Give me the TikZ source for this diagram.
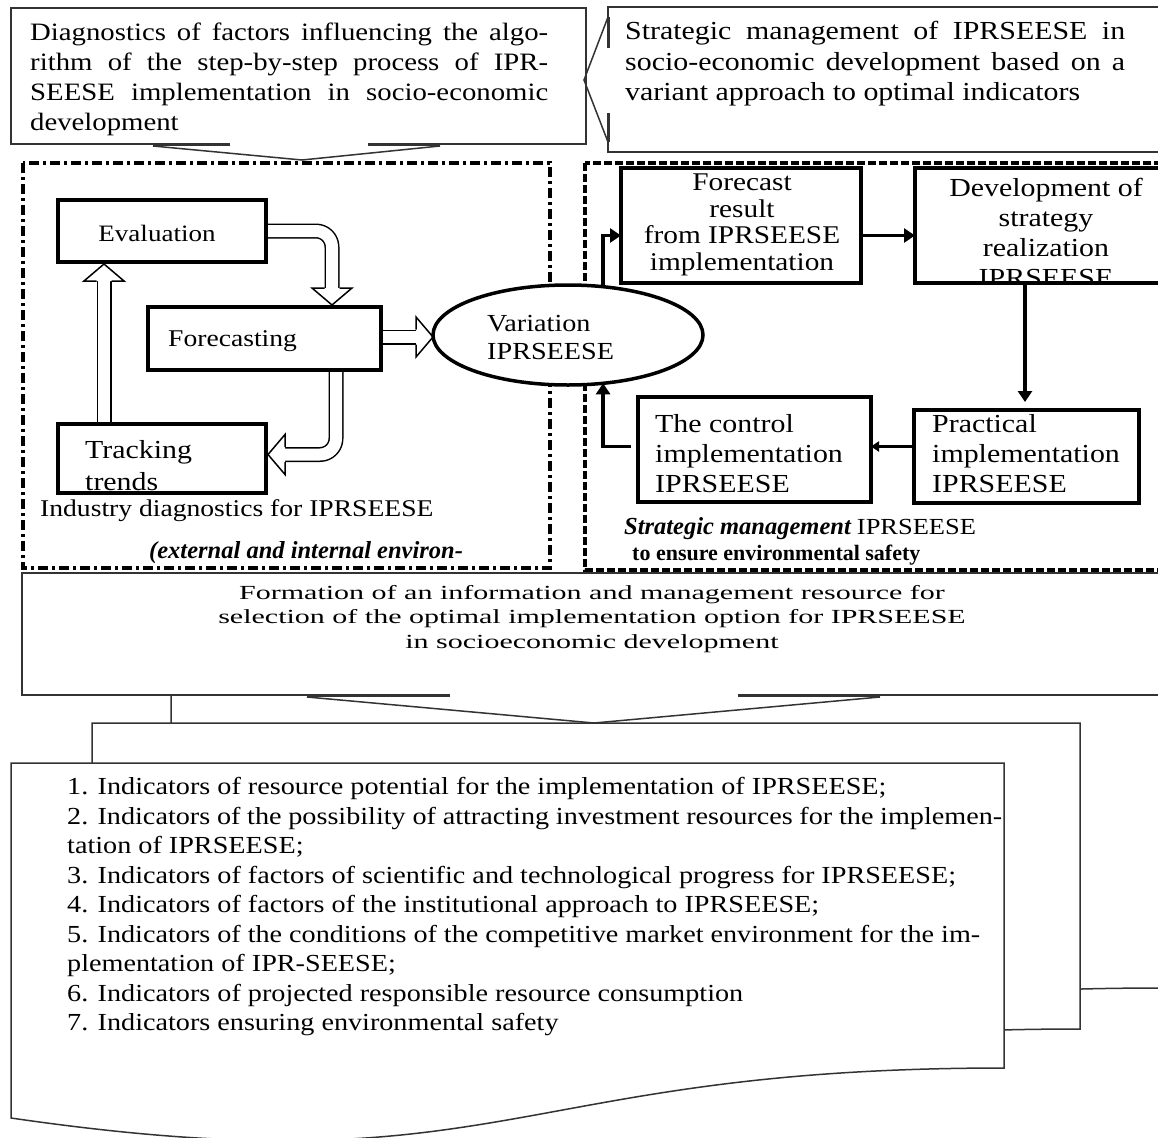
\documentclass[tikz,border=0pt]{standalone}
\usepackage{fontspec}
\setmainfont[FakeStretch=1.15]{Liberation Serif}
\newfontfamily\plainserif{Liberation Serif}
\newfontfamily\widefont[FakeStretch=1.5]{Liberation Serif}
\usetikzlibrary{shapes.geometric,arrows.meta,calc}
\pgfdeclarelayer{bg}
\pgfsetlayers{bg,main}
\newcommand\fsz[2]{\fontsize{#1}{#2}\selectfont}
\newcommand\hollowhead[2]{%
  \begin{scope}[shift={(#1)},rotate=#2]
    \fill[white] (0,0) -- (-17,-20) -- (-17,20) -- cycle;
    \draw[line width=1.5pt,line join=miter] (-17,-7.5) -- (-17,-20) -- (0,0) -- (-17,20) -- (-17,7.5);
  \end{scope}}
\newcommand\hollowshaft[1]{\draw[hshaft] #1; \draw[hshaftin] #1;}
\begin{document}
\begin{tikzpicture}[x=1pt,y=-1pt,
  outl/.style={line width=1.5pt, draw=black!80},
  bbox/.style={draw, line width=4pt, fill=white, inner sep=0pt, outer sep=0pt, anchor=north west},
  lbl/.style={inner sep=0pt, align=left},
  hshaft/.style={line width=15pt, line cap=butt, line join=round, rounded corners=16pt},
  hshaftin/.style={line width=12pt, white, line cap=butt, line join=round, rounded corners=16pt},
  sarrow/.style={line width=3.5pt, -{Triangle[length=11pt,width=14pt]}},
  sarrowsm/.style={line width=3pt, -{Triangle[length=8pt,width=10pt]}},
]
\useasboundingbox (0,0) rectangle (1158,1137);
\begin{pgfonlayer}{bg}\fill[white] (0,0) rectangle (1158,1137);\end{pgfonlayer}
\clip (0,0) rectangle (1158,1137);

% ---------- multi-document shape ----------
\filldraw[outl, fill=white] (171,690) -- (1162,690) -- (1162,988) .. controls (666,988) and (666,1095) .. (171,1038) -- cycle;
\filldraw[outl, fill=white] (92,723) -- (1080,723) -- (1080,1029) .. controls (586,1029) and (586,1140) .. (92,1079) -- cycle;
\filldraw[outl, fill=white] (11,763) -- (1004,763) -- (1004,1068) .. controls (507,1068) and (507,1190) .. (11,1118) -- cycle;

% ---------- formation callout ----------
\fill[white] (22,573) rectangle (1165,695);
\fill[white] (307,695) -- (594,723) -- (880,695) -- cycle;
\draw[outl] (450,695) -- (22,695) -- (22,573) -- (1165,573);
\draw[outl] (738,695) -- (1165,695);
\draw[outl, line width=2.5pt] (450,696) -- (307,696);
\draw[outl, line width=2.5pt] (738,696) -- (880,696);
\draw[outl] (307,697) -- (594,723) -- (880,697);

% ---------- top-left callout ----------
\fill[white] (11,8) rectangle (586,144);
\draw[outl] (230,144) -- (11,144) -- (11,8) -- (586,8) -- (586,144) -- (368,144);
\draw[outl, line width=2.5pt] (230,145) -- (153,145);
\draw[outl, line width=2.5pt] (368,145) -- (440,145);
\draw[outl] (153,146) -- (302,160) -- (440,146);

% ---------- top-right callout ----------
\draw[outl] (608,48) -- (608,7) -- (1165,7);
\draw[outl] (608,113) -- (608,152) -- (1165,152);
\draw[outl, line width=2.5pt] (608.5,17) -- (608.5,48);
\draw[outl, line width=2.5pt] (608.5,113) -- (608.5,142);
\draw[outl] (608,17) -- (584,80) -- (608,142);

% ---------- panels ----------
\draw[line width=4pt, dash pattern=on 10pt off 4pt on 3pt off 4pt] (23,163) rectangle (550,568);
\draw[line width=3.5pt, dash pattern=on 8pt off 3pt] (585,163) rectangle (1165,570);

% ---------- left panel nodes ----------
\node[bbox, minimum width=208, minimum height=62] (eval) at (58,200) {};
\node[bbox, minimum width=233, minimum height=63] (fore) at (148,307) {};
\node[bbox, minimum width=208, minimum height=69] (track) at (58,424) {};
\node[ellipse, draw, line width=3.5pt, fill=white, minimum width=270, minimum height=100, inner sep=0pt, outer sep=0pt] (var) at (568,335) {};

\node[lbl, font=\fsz{23.5}{28}] (evalt) at (157,233) {Evaluation};
\node[lbl, anchor=west, font=\fsz{24}{28}] (foret) at (168,341) {Forecasting};
\node[lbl, anchor=west, font=\fsz{26}{32}] (trackt) at (85,466) {Tracking\\trends};
\node[lbl, anchor=west, font=\fsz{24.5}{28}] (vart) at (487,338) {Variation\\IPRSEESE};
\node[lbl, anchor=west, font=\fsz{24}{28}] (inddiag) at (40,511) {Industry diagnostics for IPRSEESE};
\node[lbl, anchor=west, font=\plainserif\bfseries\itshape\fsz{24.5}{28}] (extenv) at (149,553) {(external and internal environ-};

% hollow arrows
\coordinate (a1tip) at ($(fore.north west)+(184,-2)$);
\coordinate (a2tip) at ($(track.east)+(2,-4)$);
\coordinate (a2top) at ($(fore.south west)+(188,-10)$);
\coordinate (a3tip) at ($(eval.south west)+(46,2)$);
\coordinate (a4tip) at ($(var.west)+(0,2)$);
\begin{pgfonlayer}{bg}
\hollowshaft{($(eval.east)+(-10,0)$) -- (eval.east -| a1tip) -- ($(a1tip)+(0,-17)$)}
\hollowhead{a1tip}{-90}
\hollowshaft{(a2top) -- (a2top |- a2tip) -- ($(a2tip)+(17,0)$)}
\hollowhead{a2tip}{180}
\hollowshaft{($(track.north west)+(46,10)$) -- ($(a3tip)+(0,17)$)}
\hollowhead{a3tip}{90}
\hollowshaft{($(fore.east |- a4tip)+(-10,0)$) -- ($(a4tip)+(-17,0)$)}
\hollowhead{a4tip}{0}
\end{pgfonlayer}

% ---------- right panel nodes ----------
\node[bbox, minimum width=240, minimum height=115] (fres) at (621,168) {};
\node[lbl, align=center, font=\fsz{25.5}{26.7}] (frest) at (742,225) {Forecast\\result\\from IPRSEESE\\implementation};
\node[bbox, minimum width=250, minimum height=115] (dev) at (915,168) {};
\begin{scope}
\clip (917,170) rectangle (1165,281);
\node[lbl, align=center, font=\fsz{26}{30}] (devt) at (1046,232) {Development of\\strategy\\realization\\IPRSEESE};
\end{scope}
\node[bbox, minimum width=225, minimum height=93] (prac) at (914,410) {};
\node[lbl, anchor=west, font=\fsz{26}{30}] (pract) at (932,454) {Practical\\implementation\\IPRSEESE};
\node[bbox, minimum width=233, minimum height=105] (ctrl) at (638,397) {};
\node[lbl, anchor=west, font=\fsz{26}{30}] (ctrlt) at (655,454) {The control\\implementation\\IPRSEESE};

\draw[sarrow] ($(fres.east)+(0,10)$) -- ($(dev.west)+(0,10)$);
\draw[sarrow, shorten >=8pt] ($(dev.south west)+(110,0)$) -- ($(prac.north west)+(111,0)$);
\draw[sarrowsm] ($(prac.west)+(0,-10)$) -- ($(ctrl.east)+(0,-3)$);
\draw[sarrow] ($(ctrl.west)+(-7,-3)$) -| (var.-54.7);
\draw[sarrow] (var.54.7) |- ($(fres.west)+(0,10)$);

\node[lbl, anchor=west] (stratm) at (624,529) {{\plainserif\bfseries\itshape\fsz{24.5}{28}Strategic management }{\fsz{23}{28}IPRSEESE}};
\node[lbl, anchor=west, font=\plainserif\bfseries\fsz{22}{26}] (ensure) at (632,555) {to ensure environmental safety};

% ---------- callout texts ----------
\node[lbl, anchor=west, font=\fsz{25}{30}] (diagt) at (30,79) {\makebox[518pt][s]{Diagnostics of factors influencing the algo-}\\\makebox[518pt][s]{rithm of the step-by-step process of IPR-}\\\makebox[518pt][s]{SEESE implementation in socio-economic}\\development};
\node[lbl, anchor=west, font=\fsz{26}{30.5}] (stratt) at (625,64) {\makebox[500pt][s]{Strategic management of IPRSEESE in}\\\makebox[500pt][s]{socio-economic development based on a}\\variant approach to optimal indicators};
\node[lbl, align=center, font=\widefont\fsz{20}{24.5}] (formt) at (592,619) {Formation of an information and management resource for\\selection of the optimal implementation option for IPRSEESE\\in socioeconomic development};

% ---------- indicators ----------
\node[lbl, anchor=west, font=\fsz{24.5}{29.5}] (indt) at (67,907) {1. Indicators of resource potential for the implementation of IPRSEESE;\\
\makebox[935pt][s]{2. Indicators of the possibility of attracting investment resources for the implemen-}\\
tation of IPRSEESE;\\
3. Indicators of factors of scientific and technological progress for IPRSEESE;\\
4. Indicators of factors of the institutional approach to IPRSEESE;\\
\makebox[913pt][s]{5. Indicators of the conditions of the competitive market environment for the im-}\\
plementation of IPR-SEESE;\\
6. Indicators of projected responsible resource consumption\\
7. Indicators ensuring environmental safety};
\end{tikzpicture}
\end{document}
